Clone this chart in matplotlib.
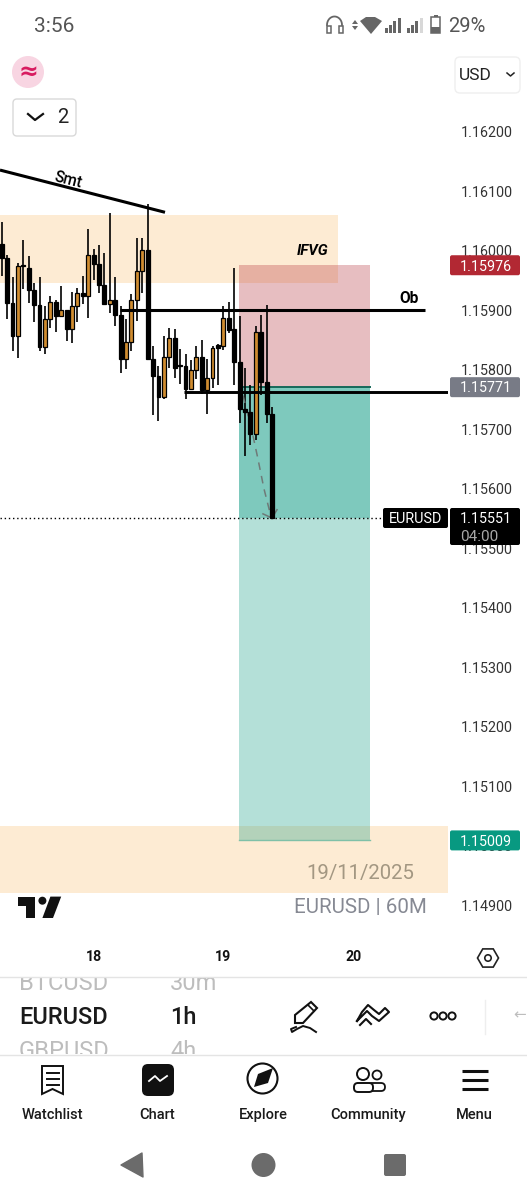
#!/usr/bin/env python3
"""EURUSD 1h phone screenshot, candles plus drawn zones and the app chrome"""

import numpy as np
import matplotlib
matplotlib.use("Agg")
import matplotlib.pyplot as plt
from matplotlib.patches import Rectangle, FancyBboxPatch, Circle, Polygon

plt.rcParams['font.family'] = ['Roboto', 'DejaVu Sans']

# candles, oldest first
opens = [1.16011, 1.15989, 1.15912, 1.15857, 1.15976, 1.15972, 1.15935, 1.15909, 1.15839, 1.15885,
         1.15915, 1.15890, 1.15900, 1.15868, 1.15907, 1.15929, 1.15924, 1.15994, 1.15978, 1.15942,
         1.15910, 1.15918, 1.15892, 1.15819, 1.15847, 1.15918, 1.15967, 1.16002, 1.15819, 1.15790,
         1.15755, 1.15821, 1.15854, 1.15808, 1.15806, 1.15768, 1.15800, 1.15822, 1.15766, 1.15786,
         1.15842, 1.15841, 1.15888, 1.15868, 1.15814, 1.15735, 1.15730, 1.15692, 1.15863, 1.15780,
         1.15726]
highs = [1.16048, 1.15994, 1.15957, 1.15980, 1.16018, 1.15992, 1.15946, 1.15956, 1.15907, 1.15924,
         1.15918, 1.15941, 1.15900, 1.15931, 1.15938, 1.15958, 1.16037, 1.16004, 1.16010, 1.15996,
         1.16063, 1.15957, 1.15908, 1.15885, 1.15927, 1.16021, 1.16021, 1.16079, 1.15840, 1.15806,
         1.15857, 1.15870, 1.15868, 1.15835, 1.15826, 1.15817, 1.15841, 1.15850, 1.15818, 1.15841,
         1.15844, 1.15907, 1.15915, 1.15972, 1.15890, 1.15804, 1.15774, 1.15873, 1.15892, 1.15909,
         1.15738]
lows = [1.15958, 1.15886, 1.15831, 1.15820, 1.15936, 1.15913, 1.15880, 1.15831, 1.15826, 1.15871,
        1.15863, 1.15890, 1.15849, 1.15846, 1.15881, 1.15911, 1.15888, 1.15952, 1.15930, 1.15910,
        1.15896, 1.15873, 1.15795, 1.15801, 1.15832, 1.15883, 1.15930, 1.15818, 1.15724, 1.15714,
        1.15751, 1.15803, 1.15787, 1.15776, 1.15751, 1.15768, 1.15785, 1.15760, 1.15726, 1.15769,
        1.15775, 1.15834, 1.15862, 1.15774, 1.15710, 1.15655, 1.15674, 1.15683, 1.15758, 1.15710,
        1.15551]
closes = [1.15989, 1.15912, 1.15857, 1.15975, 1.15975, 1.15935, 1.15909, 1.15839, 1.15885, 1.15915,
          1.15890, 1.15900, 1.15868, 1.15907, 1.15929, 1.15924, 1.15994, 1.15978, 1.15942, 1.15910,
          1.15918, 1.15892, 1.15819, 1.15847, 1.15918, 1.15967, 1.16001, 1.15818, 1.15790, 1.15755,
          1.15821, 1.15854, 1.15804, 1.15806, 1.15768, 1.15800, 1.15822, 1.15766, 1.15786, 1.15837,
          1.15837, 1.15888, 1.15867, 1.15814, 1.15735, 1.15730, 1.15692, 1.15863, 1.15780, 1.15726,
          1.15551]

price_ticks = [1.149, 1.150, 1.151, 1.152, 1.153, 1.154, 1.155, 1.156, 1.157, 1.158, 1.159, 1.160, 1.161, 1.162]
day_ticks = [17, 41, 65]
day_labels = ['18', '19', '20']

stop_price = 1.15976
entry_price = 1.15771
last_price = 1.15551
target_price = 1.15009

nav_labels = ['Watchlist', 'Chart', 'Explore', 'Community', 'Menu']

W, H = 527, 1200
UP = '#D08C30'
DOWN = '#000000'
ZONE = '#FDEBD3'
SPACING = 5.406   # pixels per bar


def px_y(price):
    return 132 + (1.162 - price) * 59480


def bar_x(px):
    return (px - 1.7) / SPACING


fig = plt.figure(figsize=(W / 100, H / 100), dpi=100, facecolor='white')

# chart axes, pixel 0-448 across and 95-940 down
ax = fig.add_axes([0, 1 - 940 / H, 448 / W, 845 / H])
ax.set_xlim(bar_x(0), bar_x(448))
ax.set_ylim(1.162 - 808 / 59480, 1.162 + 37 / 59480)
for s in ax.spines.values():
    s.set_visible(False)
ax.yaxis.tick_right()
ax.set_yticks(price_ticks)
ax.set_yticklabels(['%.5f' % p for p in price_ticks], fontsize=10.3, color='#333333')
ax.set_xticks(day_ticks)
ax.set_xticklabels(day_labels, fontsize=10.2, fontweight='bold', color='#111111')
ax.tick_params(axis='y', length=0, pad=9.4)
ax.tick_params(axis='x', length=0, pad=7.5)

# zones
ax.add_patch(Rectangle((bar_x(0), 1.15946), bar_x(338) - bar_x(0), 1.16060 - 1.15946, fc=ZONE, ec='none', zorder=1))
ax.add_patch(Rectangle((bar_x(0), 1.14920), bar_x(448) - bar_x(0), 1.15033 - 1.14920, fc=ZONE, ec='none', zorder=1))

# long position box
bx0, bw = bar_x(239), bar_x(370) - bar_x(239)
ax.add_patch(Rectangle((bx0, entry_price), bw, stop_price - entry_price, fc='#B22833', alpha=0.3, ec='none', zorder=2))
ax.add_patch(Rectangle((bx0, last_price), bw, entry_price - last_price, fc='#089981', alpha=0.52, ec='none', zorder=2))
ax.add_patch(Rectangle((bx0, target_price), bw, last_price - target_price, fc='#089981', alpha=0.3, ec='none', zorder=2))
ax.plot([bx0, bx0 + bw], [entry_price, entry_price], color='#17695A', lw=1.4, zorder=2.5)
ax.plot([bx0, bx0 + bw], [target_price, target_price], color='#7FC0A8', lw=1, zorder=2.5)

# candles
xs = np.arange(len(opens))
colors = [UP if c > o else DOWN for o, c in zip(opens, closes)]
ax.vlines(xs, lows, highs, color='black', lw=1.2, zorder=3)
ax.bar(xs, np.abs(np.array(closes) - np.array(opens)), bottom=np.minimum(opens, closes), width=0.72,
       color=colors, edgecolor='black', linewidth=0.9, zorder=4)

# trader's drawings
ax.plot([bar_x(0), bar_x(165)], [1.16136, 1.16065], color='black', lw=2.2, zorder=5, solid_capstyle='butt')
ax.plot([bar_x(120), bar_x(425)], [1.15900, 1.15900], color='black', lw=2.2, zorder=5, solid_capstyle='butt')
ax.plot([bar_x(184), bar_x(448)], [1.15763, 1.15763], color='black', lw=2.1, zorder=5, solid_capstyle='butt')
ax.plot([bar_x(0), bar_x(383)], [last_price, last_price], color='black', lw=1.0, ls=(0, (1, 2)), zorder=5)

dash_x = [bar_x(243), bar_x(252), bar_x(258), bar_x(264), bar_x(270)]
dash_y = [1.15757, 1.15697, 1.15650, 1.15600, 1.15560]
ax.plot(dash_x, dash_y, color='#6F7A78', lw=1.1, ls=(0, (5, 4)), zorder=3.5)
ax.plot([bar_x(263), bar_x(272), bar_x(277)], [1.15558, 1.15551, 1.15565], color='#6F7A78', lw=1.1, zorder=3.5)

ax.text(bar_x(68), 1.16120, 'Smt', fontsize=11.2, fontweight='medium', rotation=-14,
        ha='center', va='center', zorder=6)
ax.text(bar_x(313), 1.16000, 'IFVG', fontsize=10.8, fontweight='bold', style='italic',
        ha='center', va='center', zorder=6)
ax.text(bar_x(409), 1.15920, 'Ob', fontsize=11.2, fontweight='bold', ha='center', va='center', zorder=6)

# everything else is placed in screen pixels
ui = fig.add_axes([0, 0, 1, 1], facecolor='none')
ui.set_xlim(0, W)
ui.set_ylim(H, 0)
ui.axis('off')


def tag(x0, y0, x1, y1, fc):
    ui.add_patch(FancyBboxPatch((x0 + 1, y0 + 1), x1 - x0 - 2, y1 - y0 - 2, boxstyle='round,pad=1,rounding_size=2',
                                fc=fc, ec='none', zorder=3))


def label(x, y, s, size, color='#111111', ha='center', **kw):
    # va=center sits a little high with this font
    return ui.text(x, y + 1.3, s, fontsize=size, color=color, ha=ha, va='center', zorder=4, **kw)


# price tags
tag(450, px_y(stop_price) - 10, 520, px_y(stop_price) + 10, '#B22833')
label(486, px_y(stop_price), '%.5f' % stop_price, 10.3, 'white')
tag(450, px_y(entry_price) - 10, 520, px_y(entry_price) + 10, '#787B86')
label(486, px_y(entry_price), '%.5f' % entry_price, 10.3, 'white')
tag(383, 508, 448, 528, '#000000')
label(415.5, 518, 'EURUSD', 10.4, 'white')
tag(450, 508, 520, 545, '#000000')
label(486, 518, '%.5f' % last_price, 10.3, 'white')
label(479, 536, '04:00', 11, '#A8A8A8')
tag(450, px_y(target_price) - 10, 520, px_y(target_price) + 10, '#089981')
label(486, px_y(target_price), '%.5f' % target_price, 10.3, 'white')

# watermark
label(360, 872, '19/11/2025', 14.7, '#A39782')
label(360, 906, 'EURUSD | 60M', 14.8, '#868993')
ui.add_patch(Polygon([(17.5, 896.6), (35, 896.6), (35, 918), (26, 918), (26, 905.7), (17.5, 905.7)], fc='#111111', ec='none'))
ui.add_patch(Circle((42.4, 900.7), 4, fc='#111111', ec='none'))
ui.add_patch(Polygon([(50.4, 896.6), (61.2, 896.6), (53, 918), (42.4, 918)], fc='#111111', ec='none'))

# status bar
label(54.5, 25, '3:56', 15, '#555555')
label(466.5, 25, '29%', 14.5, '#555555')
t = np.linspace(np.pi, 2 * np.pi, 30)
ui.plot(334.5 + 7.5 * np.cos(t), 25 + 8.5 * np.sin(t), color='#666666', lw=1.3)
ui.add_patch(Rectangle((327, 26), 3.5, 7, fc='none', ec='#666666', lw=1.1))
ui.add_patch(Rectangle((339, 26), 3.5, 7, fc='none', ec='#666666', lw=1.1))
ui.add_patch(Polygon([(355, 20), (358, 24), (352, 24)], fc='#666666', ec='none'))
ui.add_patch(Polygon([(355, 30), (358, 26), (352, 26)], fc='#666666', ec='none'))
ui.add_patch(Polygon([(360, 21), (366, 17), (375, 17), (382, 21), (371, 34)], fc='#666666', ec='none'))
for x0, h, c in [(385, 5, '#666666'), (389, 8, '#666666'), (393, 12, '#666666'), (398, 15, '#666666'),
                 (407, 5, '#666666'), (411, 8, '#666666'), (415, 12, '#666666'), (420, 15, '#D8D8D8')]:
    ui.add_patch(Rectangle((x0, 33 - h), 2.6, h, fc=c, ec='none'))
ui.add_patch(Rectangle((431, 17), 9, 16, fc='white', ec='#666666', lw=1.1))
ui.add_patch(Rectangle((431, 27), 9, 6, fc='#666666', ec='none'))
ui.add_patch(Rectangle((433.5, 15), 4, 2, fc='#666666', ec='none'))

# top left and currency buttons
ui.add_patch(Circle((28, 72), 16, fc='#F8D5E2', ec='none'))
label(28, 70, '≈', 17, '#D81B60', family=['DejaVu Sans'], fontweight='bold')
ui.add_patch(FancyBboxPatch((14, 100), 61, 35, boxstyle='round,pad=1,rounding_size=4', fc='white', ec='#D9D9D9', lw=1))
ui.plot([28, 35, 43], [114, 120, 114], color='#111111', lw=1.6)
label(63, 116, '2', 14.5, '#222222')
ui.add_patch(FancyBboxPatch((456, 58), 63, 34, boxstyle='round,pad=1,rounding_size=5', fc='white', ec='#EFEFEF', lw=1))
label(475, 74, 'USD', 12.5, '#222222')
ui.plot([507, 510.5, 514], [73, 76, 73], color='#222222', lw=1.1)

# settings hexagon under the price scale
ang = np.radians(np.arange(0, 360, 60))
ui.add_patch(Polygon(np.c_[488 + 10.5 * np.cos(ang), 958 + 10.5 * np.sin(ang)], fc='none', ec='#222222', lw=1.2))
ui.add_patch(Circle((488, 958), 3.2, fc='none', ec='#222222', lw=1.2))

# symbol / interval picker, top and bottom rows are cut off by the dividers
ui.plot([0, W], [977, 977], color='#E4E4E4', lw=1, zorder=5)
ui.plot([0, W], [1054.5, 1054.5], color='#E4E4E4', lw=1, zorder=5)
clip_box = Rectangle((0, 978), W, 76, transform=ui.transData)
for x, y, s in [(19, 982, 'BTCUSD'), (170, 982, '30m'), (19, 1050, 'GBPUSD'), (170, 1050, '4h')]:
    tx = label(x, y, s, 17, '#BDBDBD', ha='left')
    tx.set_clip_on(True)
    tx.set_clip_path(clip_box)
label(19, 1016, 'EURUSD', 17, '#1A1A1A', ha='left', fontweight='medium')
label(170, 1016, '1h', 17, '#1A1A1A', ha='left', fontweight='medium')

# pencil
ui.add_patch(Polygon([(295, 1023), (295, 1015), (311, 1002), (317, 1008), (303, 1023)], fc='white', ec='#111111', lw=1.5))
ui.plot([308, 314], [1005, 1011], color='#111111', lw=1.2)
sq_x = [316, 310, 303, 297, 292, 291, 296]
sq_y = [1032, 1028, 1026, 1029, 1032, 1029, 1027]
ui.plot(sq_x, sq_y, color='#111111', lw=1.4)
# trend tool
ui.plot([357, 367, 372, 379, 389, 385, 379, 374, 368, 362, 357], [1021, 1011, 1016, 1021, 1012, 1008, 1014, 1010, 1005, 1012, 1021],
        color='#111111', lw=1.5)
ui.plot([360, 366, 371], [1025, 1019, 1024], color='#111111', lw=1.5)
# three dots
for cx in [434, 443, 452]:
    ui.add_patch(Circle((cx, 1016), 3.6, fc='none', ec='#111111', lw=1.4))
ui.plot([485, 485], [1000, 1034], color='#EEEEEE', lw=1)
label(520, 1014, '←', 11, '#BDBDBD', family=['DejaVu Sans'])

# bottom nav
for x, s in zip([52, 157, 263, 368, 474], nav_labels):
    label(x, 1114, s, 10.5, '#1A1A1A', fontweight='medium')
ui.add_patch(Polygon([(42, 1066), (63, 1066), (63, 1094), (52.5, 1089), (42, 1094)], fc='white', ec='#111111', lw=1.4))
for y in [1073, 1079, 1085]:
    ui.plot([46.5, 58.5], [y, y], color='#111111', lw=1.4)
ui.add_patch(FancyBboxPatch((146, 1068), 24, 24, boxstyle='round,pad=4,rounding_size=6', fc='#111111', ec='none'))
ui.plot([149, 155, 160, 167], [1081, 1076, 1081, 1076], color='white', lw=1.3)
ui.add_patch(Circle((262.5, 1078.5), 15, fc='white', ec='#111111', lw=1.5))
ui.add_patch(Polygon([(273, 1068), (268, 1083), (254, 1087), (258, 1074)], fc='#111111', ec='none'))
ui.add_patch(Circle((363, 1074), 6, fc='white', ec='#111111', lw=1.4))
ui.add_patch(Circle((377, 1075), 4.5, fc='white', ec='#111111', lw=1.3))
ui.add_patch(FancyBboxPatch((369, 1084), 15, 6, boxstyle='round,pad=1,rounding_size=4', fc='white', ec='#111111', lw=1.3))
ui.add_patch(FancyBboxPatch((355, 1084), 17, 7, boxstyle='round,pad=1,rounding_size=4', fc='white', ec='#111111', lw=1.4))
for y in [1071, 1080, 1089]:
    ui.plot([462, 488], [y, y], color='#111111', lw=2.2, solid_capstyle='butt')

# android buttons
ui.add_patch(Polygon([(121, 1165), (142, 1153), (143, 1177)], fc='#6B6B6B', ec='#6B6B6B', lw=1, joinstyle='round'))
ui.add_patch(Circle((263.5, 1165), 12, fc='#6B6B6B', ec='none'))
ui.add_patch(FancyBboxPatch((386, 1156), 18, 18, boxstyle='round,pad=2,rounding_size=2', fc='#6B6B6B', ec='none'))

fig.savefig('out.png', dpi=100)
